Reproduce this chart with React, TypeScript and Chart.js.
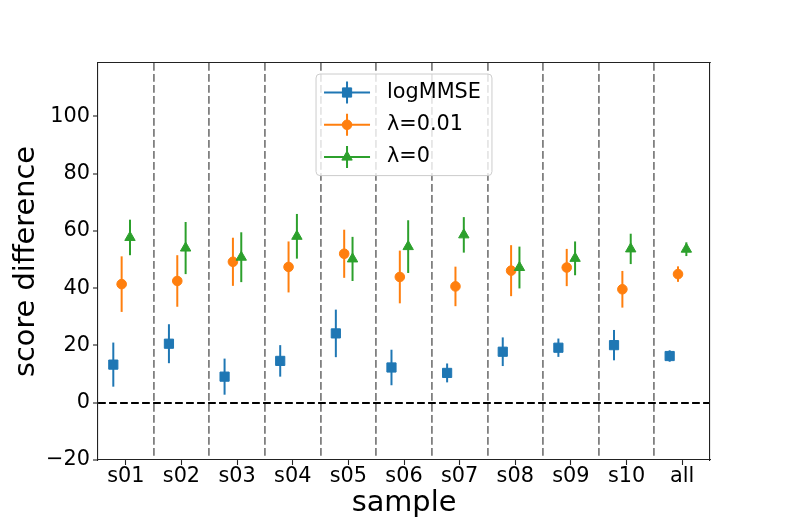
import React, { useEffect, useRef } from 'react'
import { Chart, registerables } from 'chart.js'
import { drawPoint } from 'chart.js/helpers'

Chart.register(...registerables)

// categorias del eje x y valores
const categories = ['s01', 's02', 's03', 's04', 's05', 's06', 's07', 's08', 's09', 's10', 'all']
const dividers = [0.5, 1.5, 2.5, 3.5, 4.5, 5.5, 6.5, 7.5, 8.5, 9.5]
const yTicks = [-20, 0, 20, 40, 60, 80, 100]

const logmmseMean = [13.3, 20.6, 9.1, 14.6, 24.2, 12.3, 10.4, 17.8, 19.2, 20.1, 16.3]
const logmmseErr = [7.7, 6.8, 6.3, 5.5, 8.3, 6.2, 3.3, 5.0, 3.2, 5.3, 2.0]
const lam001Mean = [41.4, 42.5, 49.2, 47.4, 52.0, 43.9, 40.6, 46.1, 47.2, 39.6, 44.9]
const lam001Err = [9.7, 9.0, 8.4, 8.9, 8.4, 9.2, 6.9, 8.9, 6.5, 6.4, 2.7]
const lam0Mean = [57.7, 54.0, 50.8, 58.1, 50.2, 54.5, 58.6, 47.2, 50.4, 53.7, 53.6]
const lam0Err = [6.2, 9.1, 8.7, 7.8, 7.7, 9.2, 6.2, 7.3, 5.9, 5.3, 2.4]

const series = [
  { label: 'logMMSE', mean: logmmseMean, err: logmmseErr, offset: -0.225, color: '#1f77b4', style: 'rect', radius: 6.5 },
  { label: 'λ=0.01', mean: lam001Mean, err: lam001Err, offset: -0.075, color: '#ff7f0e', style: 'circle', radius: 4.8 },
  { label: 'λ=0', mean: lam0Mean, err: lam0Err, offset: 0.075, color: '#2ca02c', style: 'triangle', radius: 6 },
]

const FONT = 'DejaVu Sans'
const TICK_SIZE = 20.8

// barras de error verticales, debajo de los marcadores de cada serie
const errorBarPlugin = {
  id: 'errorBars',
  beforeDatasetDraw(chart: any, args: any) {
    const s = series[args.index]
    if (!s) return
    const { ctx } = chart
    const xs = chart.scales.x
    const ys = chart.scales.y
    ctx.save()
    ctx.strokeStyle = s.color
    ctx.lineWidth = 2
    s.mean.forEach((m, i) => {
      const px = xs.getPixelForValue(i + s.offset)
      ctx.beginPath()
      ctx.moveTo(px, ys.getPixelForValue(m - s.err[i]))
      ctx.lineTo(px, ys.getPixelForValue(m + s.err[i]))
      ctx.stroke()
    })
    ctx.restore()
  },
}

// leyenda al estilo matplotlib (caja redondeada dentro del area)
const legendPlugin = {
  id: 'boxLegend',
  afterDraw(chart: any) {
    const { ctx, chartArea } = chart
    ctx.save()
    ctx.font = `${TICK_SIZE}px "${FONT}"`
    const textW = Math.max(...series.map((s) => ctx.measureText(s.label).width))
    const w = 71 + textW + 11
    const h = 18.5 * 2 + 32.3 * (series.length - 1)
    const left = (chartArea.left + chartArea.right) / 2 - w / 2
    const top = chartArea.top + 11

    ctx.beginPath()
    ctx.roundRect(left, top, w, h, 4)
    ctx.fillStyle = 'rgba(255,255,255,0.8)'
    ctx.fill()
    ctx.strokeStyle = '#cccccc'
    ctx.lineWidth = 1
    ctx.stroke()

    series.forEach((s, i) => {
      const cy = top + 18.5 + i * 32.3
      const mx = left + 31
      ctx.strokeStyle = s.color
      ctx.lineWidth = 2
      ctx.beginPath()
      ctx.moveTo(left + 8, cy)
      ctx.lineTo(left + 54, cy)
      ctx.moveTo(mx, cy - 11)
      ctx.lineTo(mx, cy + 11)
      ctx.stroke()
      ctx.fillStyle = s.color
      ctx.lineWidth = 1
      drawPoint(ctx, { pointStyle: s.style as any, radius: s.radius, rotation: 0, borderWidth: 1 }, mx, cy)
      ctx.fillStyle = '#000'
      ctx.textAlign = 'left'
      ctx.textBaseline = 'middle'
      ctx.fillText(s.label, left + 71, cy)
    })
    ctx.restore()
  },
}

export default function App() {
  const canvasRef = useRef<HTMLCanvasElement>(null)
  const chartRef = useRef<Chart | null>(null)

  useEffect(() => {
    document.body.style.margin = '0'
    if (!canvasRef.current) return
    if (chartRef.current) {
      chartRef.current.destroy()
      chartRef.current = null
    }
    Chart.defaults.font.family = FONT

    chartRef.current = new Chart(canvasRef.current, {
      type: 'scatter',
      data: {
        datasets: series.map((s, idx) => ({
          label: s.label,
          data: s.mean.map((m, i) => ({ x: i + s.offset, y: m })),
          backgroundColor: s.color,
          borderColor: s.color,
          pointStyle: s.style as any,
          pointRadius: s.radius,
          pointBorderWidth: 1,
          order: series.length - idx,
        })),
      },
      options: {
        animation: false,
        responsive: false,
        layout: { padding: { top: 63, right: 79, left: 0, bottom: 0 } },
        plugins: {
          legend: { display: false },
          tooltip: { enabled: false },
        },
        scales: {
          x: {
            type: 'linear',
            position: 'bottom',
            min: -0.5,
            max: 10.5,
            afterBuildTicks: (s: any) => {
              s.ticks = categories.map((_, i) => ({ value: i }))
            },
            afterFit: (s: any) => {
              s.height = 66
            },
            ticks: {
              callback: (v: any) => categories[v] ?? '',
              color: '#000',
              font: { size: TICK_SIZE, lineHeight: 1 },
              padding: 1,
              autoSkip: false,
              maxRotation: 0,
            },
            grid: { drawOnChartArea: false, drawTicks: true, tickLength: 5, tickColor: '#222', tickWidth: 1.1 },
            border: { color: '#222', width: 1.1 },
            title: {
              display: true,
              text: 'sample',
              color: '#000',
              font: { size: 28.8, lineHeight: 1.2 },
              padding: { top: 0, bottom: 4.7 },
            },
          },
          x2: {
            type: 'linear',
            position: 'top',
            min: -0.5,
            max: 10.5,
            afterBuildTicks: (s: any) => {
              s.ticks = dividers.map((v) => ({ value: v }))
            },
            afterFit: (s: any) => {
              s.height = 0
            },
            ticks: { display: false },
            grid: { color: '#808080', lineWidth: 1.8, drawTicks: false },
            border: { display: true, color: '#222', width: 1.1, dash: [7.7, 3.3] },
          },
          y: {
            type: 'linear',
            position: 'left',
            min: -20,
            max: 118.6,
            afterBuildTicks: (s: any) => {
              s.ticks = yTicks.map((v) => ({ value: v }))
            },
            afterFit: (s: any) => {
              s.width = 98
            },
            ticks: {
              callback: (v: any) => (v < 0 ? '\u2212' + Math.abs(v) : String(v)),
              color: '#000',
              font: { size: TICK_SIZE, lineHeight: 1 },
              padding: 3,
            },
            grid: {
              color: (c: any) => (c.tick && c.tick.value === 0 ? '#000' : 'rgba(0,0,0,0)'),
              lineWidth: 2,
              drawTicks: true,
              tickLength: 5,
              tickColor: '#222',
              tickWidth: 1.1,
            },
            border: { color: '#222', width: 1.1, dash: [7.7, 3.3] },
            title: {
              display: true,
              text: 'score difference',
              color: '#000',
              font: { size: 28.8, lineHeight: 1.2 },
              padding: { top: 9.4, bottom: 0 },
            },
          },
          y2: {
            type: 'linear',
            position: 'right',
            afterFit: (s: any) => {
              s.width = 0
            },
            ticks: { display: false },
            grid: { display: false, drawTicks: false },
            border: { display: true, color: '#222', width: 1.1 },
          },
        },
      } as any,
      plugins: [errorBarPlugin, legendPlugin],
    })

    return () => {
      if (chartRef.current) {
        chartRef.current.destroy()
        chartRef.current = null
      }
    }
  }, [])

  return (
    <div style={{ width: 789, height: 526, position: 'relative' }}>
      <canvas ref={canvasRef} width={789} height={526} style={{ width: 789, height: 526 }} />
    </div>
  )
}
